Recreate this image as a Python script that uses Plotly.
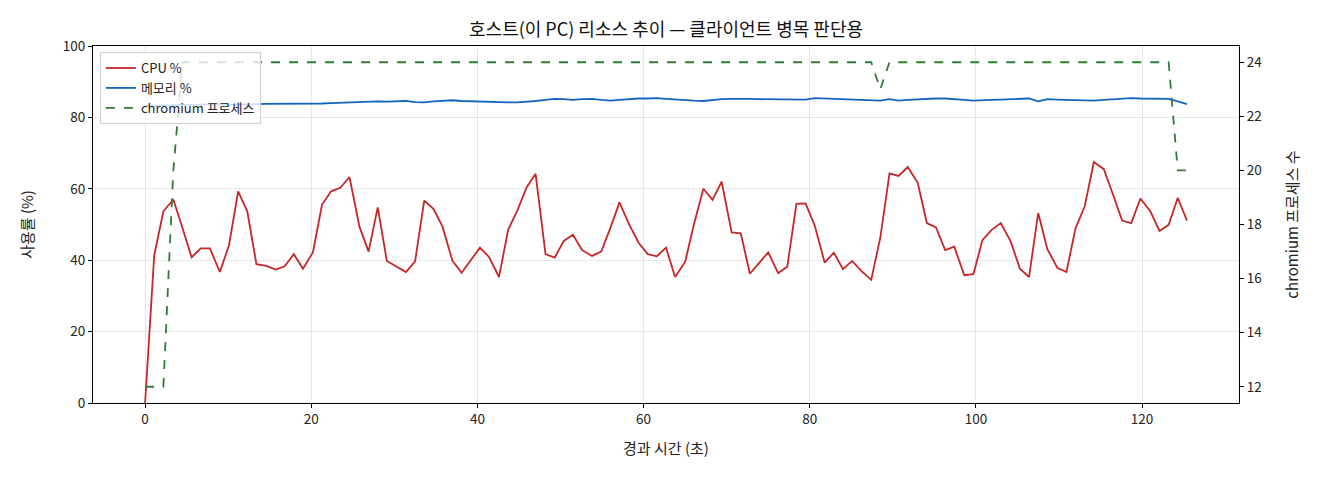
import plotly.graph_objects as go

# 경과 시간 (초)
elapsed = [
    0.0, 1.1, 2.2, 3.4, 4.5, 5.6, 6.7, 7.8, 9.0, 10.1,
    11.2, 12.3, 13.4, 14.6, 15.7, 16.8, 17.9, 19.0, 20.2, 21.3,
    22.4, 23.5, 24.6, 25.8, 26.9, 28.0, 29.1, 30.2, 31.4, 32.5,
    33.6, 34.7, 35.8, 37.0, 38.1, 39.2, 40.3, 41.4, 42.6, 43.7,
    44.8, 45.9, 47.0, 48.2, 49.3, 50.4, 51.5, 52.6, 53.8, 54.9,
    56.0, 57.1, 58.2, 59.4, 60.5, 61.6, 62.7, 63.8, 65.0, 66.1,
    67.2, 68.3, 69.4, 70.6, 71.7, 72.8, 73.9, 75.0, 76.2, 77.3,
    78.4, 79.5, 80.6, 81.8, 82.9, 84.0, 85.1, 86.2, 87.4, 88.5,
    89.6, 90.7, 91.8, 93.0, 94.1, 95.2, 96.3, 97.4, 98.6, 99.7,
    100.8, 101.9, 103.0, 104.2, 105.3, 106.4, 107.5, 108.6, 109.8, 110.9,
    112.0, 113.1, 114.2, 115.4, 116.5, 117.6, 118.7, 119.8, 121.0, 122.1,
    123.2, 124.3, 125.4,
]

cpu = [
    0.0, 41.4, 53.7, 57.0, 49.0, 40.8, 43.3, 43.3, 36.7, 44.2,
    59.3, 53.7, 38.9, 38.4, 37.4, 38.3, 41.7, 37.6, 42.2, 55.6,
    59.3, 60.3, 63.3, 49.4, 42.4, 54.8, 39.8, 38.3, 36.7, 39.7,
    56.7, 54.4, 49.4, 39.8, 36.5, 40.0, 43.5, 40.9, 35.3, 48.5,
    53.9, 60.3, 64.2, 41.7, 40.7, 45.4, 47.1, 42.8, 41.2, 42.4,
    49.0, 56.2, 50.3, 44.9, 41.7, 41.1, 43.5, 35.3, 39.5, 50.4,
    60.0, 56.9, 62.0, 47.8, 47.5, 36.2, 39.2, 42.2, 36.4, 38.2,
    55.8, 55.9, 49.7, 39.3, 42.1, 37.5, 39.8, 37.0, 34.5, 46.4,
    64.3, 63.6, 66.1, 61.7, 50.4, 49.2, 42.8, 43.8, 35.8, 36.1,
    45.7, 48.5, 50.4, 45.2, 37.6, 35.3, 53.2, 43.1, 37.9, 36.7,
    49.0, 55.1, 67.5, 65.5, 58.4, 51.1, 50.4, 57.3, 53.7, 48.2,
    49.9, 57.5, 51.1,
]

memory = [
    83.2, 83.3, 83.4, 83.4, 83.5, 83.5, 83.6, 83.6, 83.7, 83.6,
    83.7, 83.8, 83.7, 83.8, 83.8, 83.7, 83.8, 83.7, 83.8, 83.9,
    84.0, 84.1, 84.2, 84.3, 84.4, 84.5, 84.4, 84.4, 84.6, 84.3,
    84.2, 84.5, 84.6, 84.8, 84.6, 84.5, 84.4, 84.3, 84.3, 84.2,
    84.2, 84.3, 84.6, 84.9, 85.2, 85.1, 84.9, 85.1, 85.2, 84.9,
    84.7, 84.9, 85.1, 85.3, 85.3, 85.4, 85.2, 85.0, 84.9, 84.7,
    84.6, 84.9, 85.1, 85.2, 85.3, 85.2, 85.1, 85.1, 85.0, 84.9,
    84.9, 85.0, 85.4, 85.3, 85.3, 85.2, 85.0, 84.9, 84.9, 84.7,
    85.1, 84.7, 84.9, 85.1, 85.2, 85.3, 85.3, 85.2, 84.9, 84.7,
    84.9, 84.9, 85.0, 85.1, 85.4, 85.3, 84.5, 85.1, 85.0, 84.9,
    84.9, 84.9, 84.7, 84.9, 85.1, 85.4, 85.4, 85.3, 85.2, 85.2,
    85.2, 84.5, 83.7,
]

chromium = [
    12, 12, 12, 20, 24, 24, 24, 24, 24, 24,
    24, 24, 24, 24, 24, 24, 24, 24, 24, 24,
    24, 24, 24, 24, 24, 24, 24, 24, 24, 24,
    24, 24, 24, 24, 24, 24, 24, 24, 24, 24,
    24, 24, 24, 24, 24, 24, 24, 24, 24, 24,
    24, 24, 24, 24, 24, 24, 24, 24, 24, 24,
    24, 24, 24, 24, 24, 24, 24, 24, 24, 24,
    24, 24, 24, 24, 24, 24, 24, 24, 24, 23,
    24, 24, 24, 24, 24, 24, 24, 24, 24, 24,
    24, 24, 24, 24, 24, 24, 24, 24, 24, 24,
    24, 24, 24, 24, 24, 24, 24, 24, 24, 24,
    24, 20, 20,
]

font = "Noto Sans CJK KR"

fig = go.Figure()

fig.add_trace(go.Scatter(
    x=elapsed, y=cpu, name="CPU %", mode="lines",
    line=dict(color="#c62828", width=1.8),
))
fig.add_trace(go.Scatter(
    x=elapsed, y=memory, name="메모리 %", mode="lines",
    line=dict(color="#1565c0", width=1.8),
))
fig.add_trace(go.Scatter(
    x=elapsed, y=chromium, name="chromium 프로세스", mode="lines",
    line=dict(color="#2e7d32", width=1.8, dash="dash"),
    yaxis="y2",
))

axis_common = dict(
    showline=True, linecolor="black", linewidth=1,
    ticks="outside", ticklen=4, tickcolor="black",
    tickfont=dict(size=13.5, color="#222"),
    zeroline=False,
)

fig.update_layout(
    width=1320, height=480,
    margin=dict(l=85, r=89, t=38, b=85),
    paper_bgcolor="white", plot_bgcolor="white",
    font=dict(family=font, color="#222"),
    title=dict(
        text="호스트(이 PC) 리소스 추이 — 클라이언트 병목 판단용",
        x=0.4985, xanchor="center", y=0.955, yanchor="middle",
        font=dict(size=18, color="#111"),
    ),
    xaxis=dict(
        **axis_common, mirror=True,
        range=[-6.27, 131.67], tickvals=[0, 20, 40, 60, 80, 100, 120],
        showgrid=True, gridcolor="rgba(0,0,0,0.09)", gridwidth=1,
        title=dict(text="경과 시간 (초)", font=dict(size=15), standoff=16),
    ),
    yaxis=dict(
        **axis_common,
        range=[0, 100], tickvals=[0, 20, 40, 60, 80, 100],
        showgrid=True, gridcolor="rgba(0,0,0,0.09)", gridwidth=1,
        title=dict(text="사용률 (%)", font=dict(size=15), standoff=25),
    ),
    yaxis2=dict(
        **axis_common,
        overlaying="y", side="right",
        range=[11.4, 24.6], tickvals=[12, 14, 16, 18, 20, 22, 24],
        showgrid=False,
        title=dict(text="chromium 프로세스 수", font=dict(size=15), standoff=26),
    ),
    legend=dict(
        x=0.006, y=0.983, xanchor="left", yanchor="top",
        bgcolor="rgba(255,255,255,0.8)", bordercolor="#d0d0d0", borderwidth=1,
        font=dict(size=13, color="#222"), itemwidth=30, tracegroupgap=0,
    ),
    showlegend=True,
)

fig.write_html("out.html")
